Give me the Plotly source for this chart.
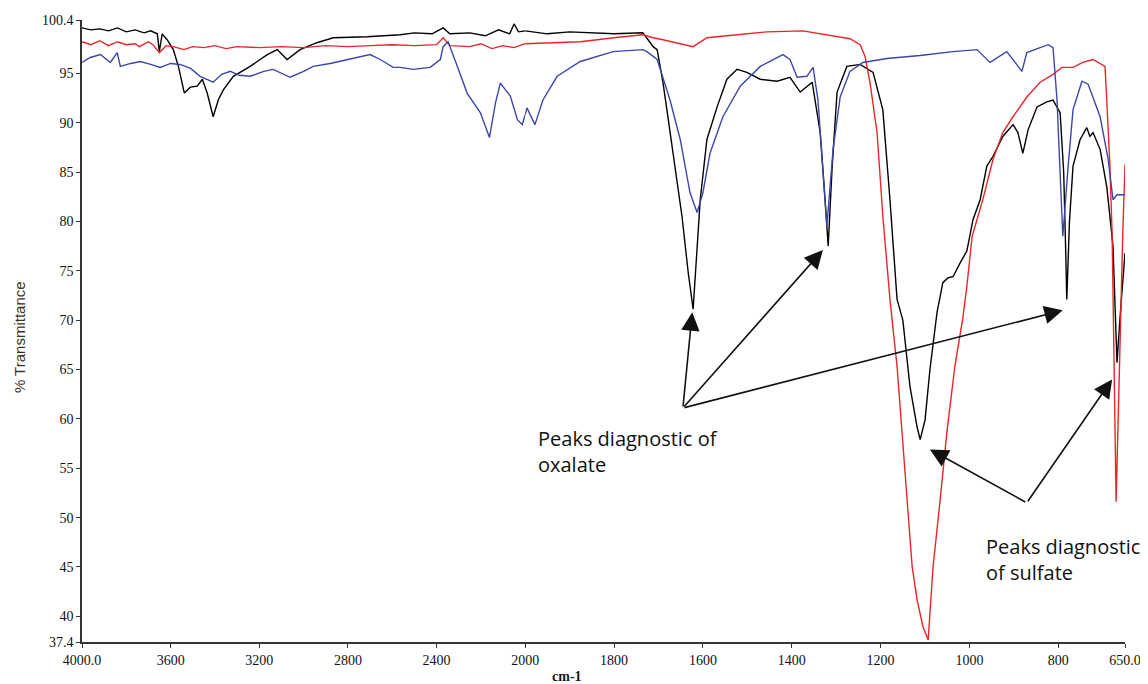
import plotly.graph_objects as go
from plotly.subplots import make_subplots

# ---------------- data (wavenumber cm-1, % transmittance) ----------------
black_w = [4000, 3960, 3920, 3880, 3840, 3800, 3760, 3720, 3690, 3660, 3651, 3638, 3616, 3588, 3565, 3547, 3538,
           3511, 3480, 3457, 3435, 3408, 3385, 3363, 3317, 3241, 3164, 3119, 3074, 3016, 2940, 2866, 2713, 2564,
           2500, 2420, 2370, 2340, 2250, 2180, 2120, 2070, 2050, 2030, 2000, 1950, 1900, 1800, 1735, 1712, 1703,
           1696, 1690, 1681, 1674, 1663, 1658, 1647, 1633, 1622, 1606, 1591, 1568, 1546, 1523, 1501, 1471, 1433,
           1404, 1381, 1354, 1336, 1325, 1318, 1309, 1298, 1276, 1246, 1217, 1195, 1179, 1163, 1150, 1134, 1118,
           1111, 1100, 1089, 1073, 1060, 1048, 1037, 1021, 1006, 992, 976, 961, 947, 925, 902, 891, 880, 868, 848,
           826, 812, 796, 788, 784, 781, 775, 767, 751, 736, 729, 722, 706, 691, 677, 668, 660, 650]
black_t = [99.6, 99.4, 99.5, 99.3, 99.6, 99.2, 99.4, 99.1, 99.3, 99.0, 97.2, 99.0, 98.4, 97.4, 95.7, 93.7, 93.0,
           93.6, 93.7, 94.4, 93.0, 90.6, 92.3, 93.3, 94.7, 95.7, 96.9, 97.4, 96.4, 97.4, 98.1, 98.6, 98.7, 98.9,
           99.1, 99.0, 99.6, 99.0, 99.1, 98.8, 99.4, 99.0, 100.0, 99.2, 99.3, 99.0, 99.2, 99.0, 99.1, 97.7, 97.4,
           95.7, 94.1, 91.3, 89.0, 85.6, 84.2, 80.5, 74.8, 71.1, 82.2, 88.3, 91.6, 94.4, 95.4, 95.1, 94.4, 94.2,
           94.6, 93.1, 94.1, 89.0, 82.2, 77.5, 85.6, 93.1, 95.7, 95.9, 95.1, 91.3, 82.2, 72.1, 70.0, 63.3, 59.2,
           57.9, 59.9, 65.0, 70.8, 73.8, 74.3, 74.4, 75.8, 77.0, 80.2, 82.2, 85.6, 86.6, 88.6, 89.8, 89.0, 86.9,
           89.3, 91.6, 92.1, 92.3, 91.0, 85.0, 78.0, 72.1, 80.0, 85.6, 88.3, 89.5, 88.6, 89.0, 87.3, 83.5, 77.5,
           65.7, 71.0, 76.8]

red_w = [4000, 3960, 3920, 3880, 3840, 3800, 3760, 3741, 3700, 3680, 3651, 3620, 3588, 3540, 3500, 3450, 3400,
         3350, 3300, 3200, 3100, 3000, 2900, 2800, 2700, 2600, 2500, 2400, 2370, 2340, 2250, 2200, 2150, 2100,
         2050, 2000, 1950, 1876, 1800, 1735, 1712, 1690, 1622, 1591, 1523, 1456, 1375, 1321, 1269, 1246, 1235,
         1224, 1208, 1195, 1179, 1163, 1152, 1141, 1129, 1118, 1105, 1093, 1082, 1066, 1051, 1033, 1017, 1015,
         1006, 994, 970, 947, 925, 902, 871, 841, 812, 792, 767, 745, 722, 702, 695, 691, 684, 679, 670, 655, 650]
red_t = [98.2, 97.9, 98.3, 97.8, 98.2, 97.9, 98.0, 97.7, 98.2, 97.9, 97.1, 97.8, 97.7, 97.4, 97.7, 97.6, 97.8,
         97.5, 97.7, 97.6, 97.7, 97.6, 97.8, 97.7, 97.8, 97.9, 97.8, 97.9, 98.6, 97.8, 97.7, 98.0, 97.5, 97.8,
         97.6, 98.0, 98.1, 98.2, 98.6, 98.9, 98.6, 98.4, 97.7, 98.6, 98.9, 99.2, 99.3, 98.9, 98.5, 97.9, 96.7,
         94.1, 89.0, 80.5, 72.1, 65.3, 58.6, 51.8, 45.0, 41.7, 39.0, 37.6, 45.0, 51.8, 58.6, 65.3, 69.9, 70.2,
         73.4, 78.5, 82.2, 86.3, 89.0, 90.6, 92.6, 94.1, 94.9, 95.6, 95.6, 96.1, 96.4, 95.9, 95.7, 92.3, 85.6,
         78.8, 51.6, 78.8, 85.8]

blue_w = [4000, 3963, 3917, 3872, 3841, 3827, 3780, 3737, 3690, 3647, 3600, 3557, 3510, 3467, 3408, 3370, 3331,
          3290, 3241, 3180, 3137, 3061, 3000, 2957, 2880, 2803, 2700, 2654, 2596, 2564, 2505, 2429, 2383, 2370,
          2348, 2306, 2262, 2202, 2161, 2134, 2112, 2067, 2035, 2013, 2000, 1996, 1978, 1960, 1928, 1876, 1802,
          1735, 1726, 1703, 1674, 1651, 1629, 1613, 1600, 1584, 1555, 1516, 1471, 1420, 1404, 1388, 1366, 1352,
          1341, 1330, 1321, 1307, 1291, 1269, 1240, 1186, 1111, 1037, 983, 954, 916, 882, 871, 823, 812, 803,
          796, 790, 778, 767, 747, 733, 706, 688, 677, 668, 661, 650]
blue_t = [96.1, 96.6, 96.9, 96.1, 97.1, 95.7, 96.0, 96.2, 95.9, 95.6, 96.0, 95.9, 95.5, 94.7, 94.1, 94.9, 95.2,
          94.8, 94.7, 95.2, 95.4, 94.6, 95.2, 95.7, 96.0, 96.4, 96.9, 96.4, 95.6, 95.6, 95.4, 95.6, 96.4, 97.7,
          98.2, 95.7, 93.0, 91.0, 88.5, 92.0, 94.0, 92.7, 90.3, 89.8, 90.8, 91.5, 89.8, 92.3, 94.7, 96.2, 97.2,
          97.4, 97.2, 96.4, 92.3, 88.3, 82.9, 80.9, 82.9, 86.9, 90.6, 93.7, 95.7, 96.9, 96.4, 94.6, 94.7, 95.6,
          92.3, 85.6, 79.5, 87.3, 92.6, 95.2, 96.1, 96.5, 96.8, 97.2, 97.4, 96.1, 97.2, 95.2, 97.1, 97.9, 97.6,
          92.3, 85.6, 78.5, 85.6, 91.3, 94.2, 93.9, 90.6, 86.3, 82.2, 82.7, 82.7, 82.7]

left_ticks = [4000, 3600, 3200, 2800, 2400, 2000]
left_text = ["4000.0", "3600", "3200", "2800", "2400", "2000"]
right_ticks = [1800, 1600, 1400, 1200, 1000, 800, 650]
right_text = ["1800", "1600", "1400", "1200", "1000", "800", "650.0"]
y_ticks = [37.4, 40, 45, 50, 55, 60, 65, 70, 75, 80, 85, 90, 95, 100.4]
y_text = ["37.4", "40", "45", "50", "55", "60", "65", "70", "75", "80", "85", "90", "95", "100.4"]

BREAK = 2000
series = [("black", black_w, black_t), ("#e8262a", red_w, red_t), ("#3d46a8", blue_w, blue_t)]

fig = make_subplots(rows=1, cols=2, shared_yaxes=True, horizontal_spacing=0,
                    column_widths=[0.4249, 0.5751])

for color, w, t in series:
    lw = [a for a in w if a >= BREAK]
    lt = [b for a, b in zip(w, t) if a >= BREAK]
    rw = [a for a in w if a <= BREAK]
    rt = [b for a, b in zip(w, t) if a <= BREAK]
    fig.add_trace(go.Scatter(x=lw, y=lt, mode="lines", line=dict(color=color, width=1.4),
                             showlegend=False, hoverinfo="skip"), row=1, col=1)
    fig.add_trace(go.Scatter(x=rw, y=rt, mode="lines", line=dict(color=color, width=1.4),
                             showlegend=False, hoverinfo="skip"), row=1, col=2)

tickfont = dict(family="Liberation Serif", size=14, color="#111")
axis_common = dict(showline=True, linecolor="#333", linewidth=1.5, showgrid=False, zeroline=False,
                   ticks="outside", ticklen=4, tickcolor="#333", tickwidth=1.2, tickfont=tickfont,
                   automargin=False)

fig.update_xaxes(range=[4000, 2000], tickmode="array", tickvals=left_ticks, ticktext=left_text,
                 **axis_common, row=1, col=1)
fig.update_xaxes(range=[2000, 650], tickmode="array", tickvals=right_ticks, ticktext=right_text,
                 **axis_common, row=1, col=2)
fig.update_yaxes(range=[37.4, 100.4], tickmode="array", tickvals=y_ticks, ticktext=y_text,
                 **axis_common, row=1, col=1)
fig.update_yaxes(showline=False, ticks="", showticklabels=False, showgrid=False, automargin=False,
                 row=1, col=2)

ann_font = dict(family="Open Sans", size=20, color="#111")
annotations = [
    dict(xref="paper", yref="paper", x=-0.0605, y=0.49, text="% Transmittance", textangle=-90,
         showarrow=False, font=dict(family="Liberation Sans", size=15, color="#3a3320"),
         xanchor="center", yanchor="middle"),
    dict(xref="paper", yref="paper", x=0.465, y=-0.055, text="<b>cm-1</b>", showarrow=False,
         font=dict(family="Liberation Serif", size=14, color="#1a1a1a"), xanchor="center", yanchor="middle"),
    dict(xref="x2", yref="y", x=1975, y=59.6, text="Peaks diagnostic of<br>oxalate", showarrow=False,
         font=ann_font, xanchor="left", yanchor="top", align="left"),
    dict(xref="x2", yref="y", x=967, y=48.6, text="Peaks diagnostic<br>of sulfate", showarrow=False,
         font=ann_font, xanchor="left", yanchor="top", align="left"),
]
arrows = [
    ((1645, 61.1), (1624, 70.8)),
    ((1645, 61.1), (1330, 77.1)),
    ((1645, 61.1), (790, 71.0)),
    ((871, 51.5), (1089, 56.9)),
    ((871, 51.5), (679, 64.0)),
]
for (tx, ty), (hx, hy) in arrows:
    annotations.append(dict(xref="x2", yref="y", x=hx, y=hy, axref="x2", ayref="y", ax=tx, ay=ty,
                            text="", showarrow=True, arrowhead=2, arrowsize=2.3, arrowwidth=1.6,
                            arrowcolor="#111", standoff=0, startstandoff=0))

# page body adds an 8px offset, so the figure is sized/margined to land the plot area like the reference
fig.update_layout(width=1140, height=676, paper_bgcolor="white", plot_bgcolor="white",
                  margin=dict(l=74, r=23, t=12, b=42), annotations=annotations)

fig.write_html("out.html")
